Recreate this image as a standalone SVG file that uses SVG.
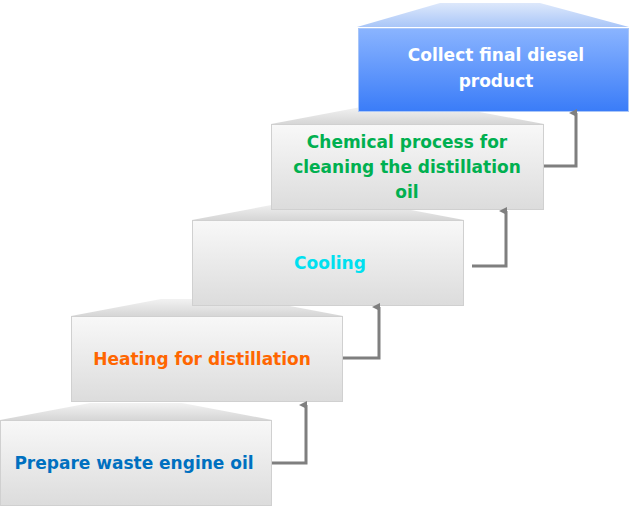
<svg xmlns="http://www.w3.org/2000/svg" width="632" height="511" viewBox="0 0 632 511">
<defs>
<linearGradient id="g" x1="0" y1="0" x2="0" y2="1"><stop offset="0" stop-color="#f8f8f8"/><stop offset="1" stop-color="#dcdcdc"/></linearGradient>
<linearGradient id="t" x1="0" y1="0" x2="0" y2="1"><stop offset="0" stop-color="#f2f2f2"/><stop offset="1" stop-color="#d6d6d6"/></linearGradient>
<linearGradient id="b" x1="0" y1="0" x2="0" y2="1"><stop offset="0" stop-color="#8ab4ff"/><stop offset="1" stop-color="#3a7cf8"/></linearGradient>
<linearGradient id="bt" x1="0" y1="0" x2="0" y2="1"><stop offset="0" stop-color="#dde8fb"/><stop offset="1" stop-color="#a9c6f8"/></linearGradient>
<marker id="a" markerWidth="8" markerHeight="8" refX="4" refY="7" orient="auto-start-reverse" markerUnits="userSpaceOnUse" viewBox="0 0 8 8"><path d="M0,8 L4,0 L8,8 Z" fill="#7f7f7f"/></marker>
</defs>
<style>
.box{fill:url(#g);stroke:#d0d0d0;stroke-width:1}
.top{fill:url(#t)}
.tx{font-family:"DejaVu Sans",Verdana,sans-serif;font-weight:bold;font-size:17px;text-anchor:middle}
.c{fill:none;stroke:#7f7f7f;stroke-width:3}
</style>
<g id="step1"><polygon class="top" points="0,420 90,403 182,403 272,420"/><rect class="box" x="0.5" y="420.5" width="271" height="85"/><text class="tx" x="134" y="469" fill="#0070c0">Prepare waste engine oil</text></g>
<g id="step2"><polygon class="top" points="71,316 161,299 253,299 343,316"/><rect class="box" x="71.5" y="316.5" width="271" height="85"/><text class="tx" x="202" y="365" fill="#ff6600">Heating for distillation</text></g>
<g id="step3"><polygon class="top" points="192,220 282,203 374,203 464,220"/><rect class="box" x="192.5" y="220.5" width="271" height="85"/><text class="tx" x="330" y="269" fill="#00e0f0">Cooling</text></g>
<g id="step4"><polygon class="top" points="271,124 361,107 453,107 544,124"/><rect class="box" x="271.5" y="124.5" width="272" height="85"/><text class="tx" fill="#00b050"><tspan x="407" y="148">Chemical process for</tspan><tspan x="407" y="173">cleaning the distillation</tspan><tspan x="407" y="198">oil</tspan></text></g>
<g id="step5"><polygon points="357,27 440,3 540,3 629,27" fill="url(#bt)"/><rect x="358.5" y="28.5" width="270" height="83" fill="url(#b)" stroke="#a9c6f8"/><text class="tx" fill="#ffffff"><tspan x="496" y="61">Collect final diesel</tspan><tspan x="496" y="87">product</tspan></text></g>
<g id="connectors">
<polyline class="c" points="272,463 306,463 306,405" marker-end="url(#a)"/>
<polyline class="c" points="343,358 379,358 379,307" marker-end="url(#a)"/>
<polyline class="c" points="472,266 506,266 506,211" marker-end="url(#a)"/>
<polyline class="c" points="544,166 576,166 576,113" marker-end="url(#a)"/>
</g>
</svg>
